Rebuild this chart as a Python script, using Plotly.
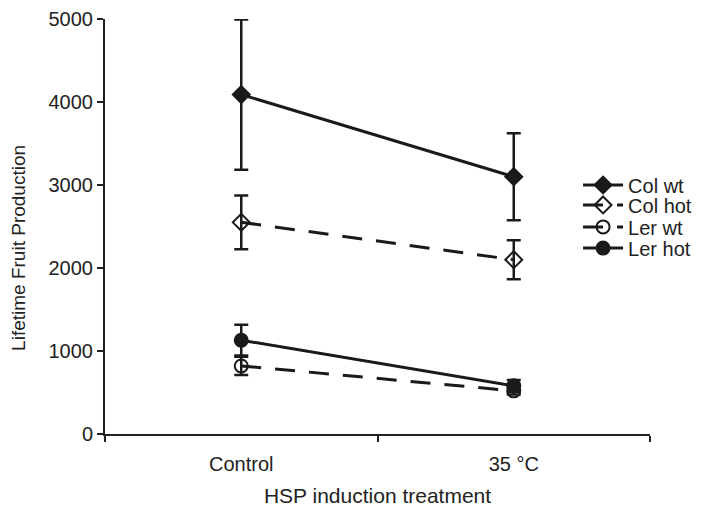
import plotly.graph_objects as go

categories = ["Control", "35 °C"]
series_names = ["Col wt", "Col hot", "Ler wt", "Ler hot"]
col_wt = [4090, 3100]
col_wt_err = [905, 525]
col_hot = [2550, 2100]
col_hot_err = [325, 235]
ler_wt = [820, 520]
ler_wt_err = [110, 45]
ler_hot = [1130, 580]
ler_hot_err = [185, 70]
y_ticks = [0, 1000, 2000, 3000, 4000, 5000]

styles = {
    "Col wt": dict(symbol="diamond", dash="solid"),
    "Col hot": dict(symbol="diamond-open", dash="20px,14px"),
    "Ler wt": dict(symbol="circle-open", dash="20px,14px"),
    "Ler hot": dict(symbol="circle", dash="solid"),
}
data = {"Col wt": (col_wt, col_wt_err), "Col hot": (col_hot, col_hot_err),
        "Ler wt": (ler_wt, ler_wt_err), "Ler hot": (ler_hot, ler_hot_err)}
legend_keys = ["legend", "legend2", "legend3", "legend4"]
legend_y = [0.600, 0.552, 0.499, 0.448]

fig = go.Figure()
color = "#1a1a1a"
for name, lk in zip(series_names, legend_keys):
    vals, errs = data[name]
    st = styles[name]
    fig.add_trace(go.Scatter(
        x=categories, y=vals, name=name, mode="lines+markers", legend=lk,
        line=dict(color=color, width=3, dash=st["dash"]),
        marker=dict(symbol=st["symbol"], size=13, color=color,
                    line=dict(color=color, width=2)),
        error_y=dict(type="data", array=errs, visible=True, color=color,
                     thickness=2.5, width=7),
    ))

font = "Liberation Sans, Arial, sans-serif"
legends = {}
for lk, ly in zip(legend_keys, legend_y):
    legends[lk] = dict(x=0.868, y=ly, xanchor="left", yanchor="middle",
                       font=dict(size=20, color="#222"), bgcolor="rgba(0,0,0,0)",
                       itemwidth=40, borderwidth=0)

fig.update_layout(
    width=702, height=508,
    margin=dict(l=97, r=60, t=11, b=82, autoexpand=False),
    paper_bgcolor="white", plot_bgcolor="white",
    font=dict(family=font, size=20, color="#222"),
    showlegend=True,
    xaxis=dict(type="category", range=[-0.5, 1.5], tickson="boundaries",
               ticks="outside", ticklen=6, tickwidth=2, tickcolor="#222",
               showline=True, linecolor="#222", linewidth=2, automargin=False,
               showgrid=False, zeroline=False, tickfont=dict(size=20),
               ticklabelstandoff=11,
               title=dict(text="HSP induction treatment", font=dict(size=21), standoff=14)),
    yaxis=dict(range=[0, 5000], tickvals=y_ticks, ticks="outside", ticklen=6,
               tickwidth=2, tickcolor="#222", showline=True, linecolor="#222",
               linewidth=2, showgrid=False, zeroline=False, tickfont=dict(size=20),
               automargin=False),
    annotations=[dict(text="Lifetime Fruit Production", textangle=-90,
                      xref="paper", yref="paper", x=-0.16, y=0.448,
                      xanchor="center", yanchor="middle", showarrow=False,
                      font=dict(size=19, color="#222"))],
    **legends,
)
fig.write_html("out.html")
